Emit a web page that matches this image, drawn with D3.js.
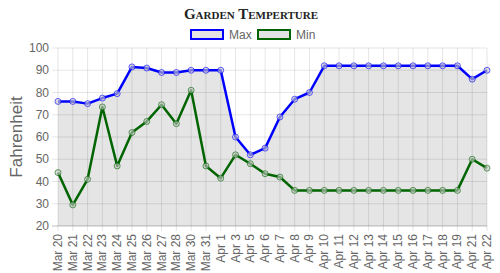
<!DOCTYPE html>
<html>
<head>
<meta charset="utf-8">
<script src="https://cdn.jsdelivr.net/npm/d3@7"></script>
<style>
  body { margin: 0; background: #fff; }
  text { font-family: "Liberation Sans", Arial, sans-serif; }
</style>
</head>
<body>
<svg id="chart" width="500" height="273"></svg>
<script>
var days = ["Mar 20", "Mar 21", "Mar 22", "Mar 23", "Mar 24", "Mar 25", "Mar 26", "Mar 27", "Mar 28", "Mar 30",
    "Mar 31", "Apr 1", "Apr 3", "Apr 5", "Apr 6", "Apr 7", "Apr 8", "Apr 9", "Apr 10", "Apr 11",
    "Apr 12", "Apr 13", "Apr 14", "Apr 15", "Apr 16", "Apr 17", "Apr 18", "Apr 19", "Apr 21", "Apr 22"];
var maxTemps = [76, 76, 75, 77.5, 79.5, 91.5, 91, 89, 89, 90,
    90, 90, 60, 52, 55, 69, 77, 80, 92, 92,
    92, 92, 92, 92, 92, 92, 92, 92, 86, 90];
var minTemps = [44, 29.5, 41, 73.5, 47, 62, 67, 74.5, 66, 81,
    47, 41.5, 52, 48, 43.5, 42, 36, 36, 36, 36,
    36, 36, 36, 36, 36, 36, 36, 36, 50, 46];
var yTicks = [20, 30, 40, 50, 60, 70, 80, 90, 100];

(function () {
    "use strict";

    var svg = d3.select("#chart"),
        left = 58, right = 487, top = 48, bottom = 226;

    var x = d3.scalePoint().domain(days).range([left, right]);
    var y = d3.scaleLinear().domain([20, 100]).range([bottom, top]);

    var series = [
        { name: "Max", color: "#0000ff", values: maxTemps, fill: true },
        { name: "Min", color: "#006400", values: minTemps, fill: false }
    ];

    // title
    svg.append("text")
        .attr("x", 251).attr("y", 19)
        .attr("text-anchor", "middle")
        .style("font-family", "'Liberation Serif', 'Times New Roman', serif")
        .style("font-variant", "small-caps")
        .style("font-weight", "bold")
        .style("font-size", "15px")
        .attr("fill", "#222")
        .text("Garden Temperture");

    // legend
    var legendX = [191, 258];
    series.forEach(function (s, i) {
        var g = svg.append("g").attr("transform", "translate(" + legendX[i] + ",30)");
        g.append("rect")
            .attr("width", 32).attr("height", 9)
            .attr("fill", "#e3e3e3")
            .attr("stroke", s.color).attr("stroke-width", 2);
        g.append("text")
            .attr("x", 38).attr("y", 9)
            .style("font-size", "12px")
            .attr("fill", "#666")
            .text(s.name);
    });

    // fill under max
    var area = d3.area()
        .x(function (d, i) { return x(days[i]); })
        .y0(bottom)
        .y1(function (d) { return y(d); });
    svg.append("path")
        .datum(maxTemps)
        .attr("d", area)
        .attr("fill", "rgba(0,0,0,0.1)");

    // grid lines
    svg.append("g").selectAll("line")
        .data(days)
        .join("line")
        .attr("x1", function (d) { return x(d); })
        .attr("x2", function (d) { return x(d); })
        .attr("y1", top).attr("y2", bottom + 5)
        .attr("stroke", "rgba(0,0,0,0.1)");

    svg.append("g").selectAll("line")
        .data(yTicks)
        .join("line")
        .attr("x1", left - 6).attr("x2", right)
        .attr("y1", function (d) { return y(d); })
        .attr("y2", function (d) { return y(d); })
        .attr("stroke", function (d) { return d === 20 ? "rgba(0,0,0,0.25)" : "rgba(0,0,0,0.1)"; });

    // y axis labels
    svg.append("g").selectAll("text")
        .data(yTicks)
        .join("text")
        .attr("x", left - 9)
        .attr("y", function (d) { return y(d) + 4; })
        .attr("text-anchor", "end")
        .style("font-size", "12px")
        .attr("fill", "#666")
        .text(function (d) { return d; });

    // x axis labels
    svg.append("g").selectAll("text")
        .data(days)
        .join("text")
        .attr("transform", function (d) {
            return "translate(" + (x(d) + 4) + "," + (bottom + 8) + ") rotate(-90)";
        })
        .attr("text-anchor", "end")
        .style("font-size", "12px")
        .attr("fill", "#666")
        .text(function (d) { return d; });

    // y axis title
    svg.append("text")
        .attr("transform", "translate(22," + ((top + bottom) / 2) + ") rotate(-90)")
        .attr("text-anchor", "middle")
        .style("font-size", "17px")
        .attr("fill", "#666")
        .text("Fahrenheit");

    // lines and points
    var line = d3.line()
        .x(function (d, i) { return x(days[i]); })
        .y(function (d) { return y(d); });

    series.forEach(function (s) {
        svg.append("path")
            .datum(s.values)
            .attr("d", line)
            .attr("fill", "none")
            .attr("stroke", s.color)
            .attr("stroke-width", 2.5)
            .attr("stroke-linejoin", "round");

        svg.append("g").selectAll("circle")
            .data(s.values)
            .join("circle")
            .attr("cx", function (d, i) { return x(days[i]); })
            .attr("cy", function (d) { return y(d); })
            .attr("r", 3)
            .attr("fill", "rgba(200,200,200,0.6)")
            .attr("stroke", s.color)
            .attr("stroke-opacity", 0.6)
            .attr("stroke-width", 1);
    });
}());
</script>
</body>
</html>
